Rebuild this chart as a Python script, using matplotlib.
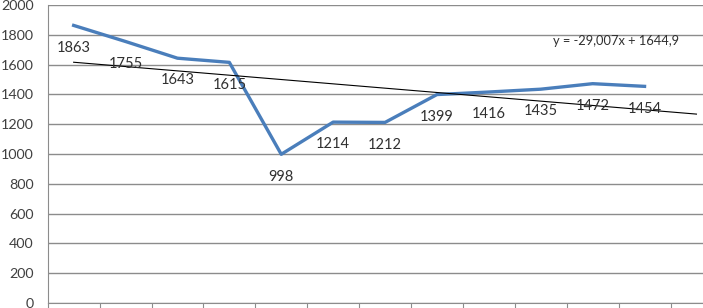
import matplotlib.pyplot as plt
import numpy as np

values = [1863, 1755, 1643, 1615, 998, 1214, 1212, 1399, 1416, 1435, 1472, 1454]
labels = [str(v) for v in values]
n_cat = 13  # one extra period for the trend forecast
equation = "y = -29,007x + 1644,9"

labelsize = 10.5
textcolor = "#404040"
gridcolor = "#8c8c8c"

plt.rcParams['font.family'] = ['Lato', 'DejaVu Sans']

fig = plt.figure(figsize=(7.03, 3.08), dpi=100)
# axes run past the right edge, like the cropped original
ax = fig.add_axes([47.7 / 703, 5 / 308, (13 * 51.9) / 703, 298 / 308])

x = np.arange(1, len(values) + 1)
ax.plot(x - 0.5, values, color="#4a7ebb", lw=2.4, solid_joinstyle="round", zorder=3)

# linear trend, forecast one period forward
k, b = np.polyfit(x, values, 1)
xt = np.array([1, n_cat])
ax.plot(xt - 0.5, k * xt + b, color="black", lw=0.8, zorder=4)

for xi, v, lab in zip(x, values, labels):
    ax.annotate(lab, (xi - 0.5, v), xytext=(0, -16), textcoords="offset points",
                ha="center", va="center", fontsize=labelsize, color="#303030", zorder=5)

ax.text(10.95, 1760, equation, ha="center", va="center", fontsize=9.3, color="#303030")

ax.set_xlim(0, n_cat)
ax.set_ylim(0, 2000)
ax.set_yticks(np.arange(0, 2001, 200))
ax.set_xticks(np.arange(0, n_cat + 1))
ax.set_xticklabels([])
ax.grid(True, axis="y", color=gridcolor, lw=1)
ax.set_axisbelow(True)
ax.tick_params(axis="y", length=0, pad=10, labelsize=10.3, labelcolor=textcolor)
ax.tick_params(axis="x", length=5, color=gridcolor, direction="out")
for s in ["top", "right"]:
    ax.spines[s].set_visible(False)
for s in ["left", "bottom"]:
    ax.spines[s].set_color(gridcolor)

plt.savefig("out.png", dpi=100)
